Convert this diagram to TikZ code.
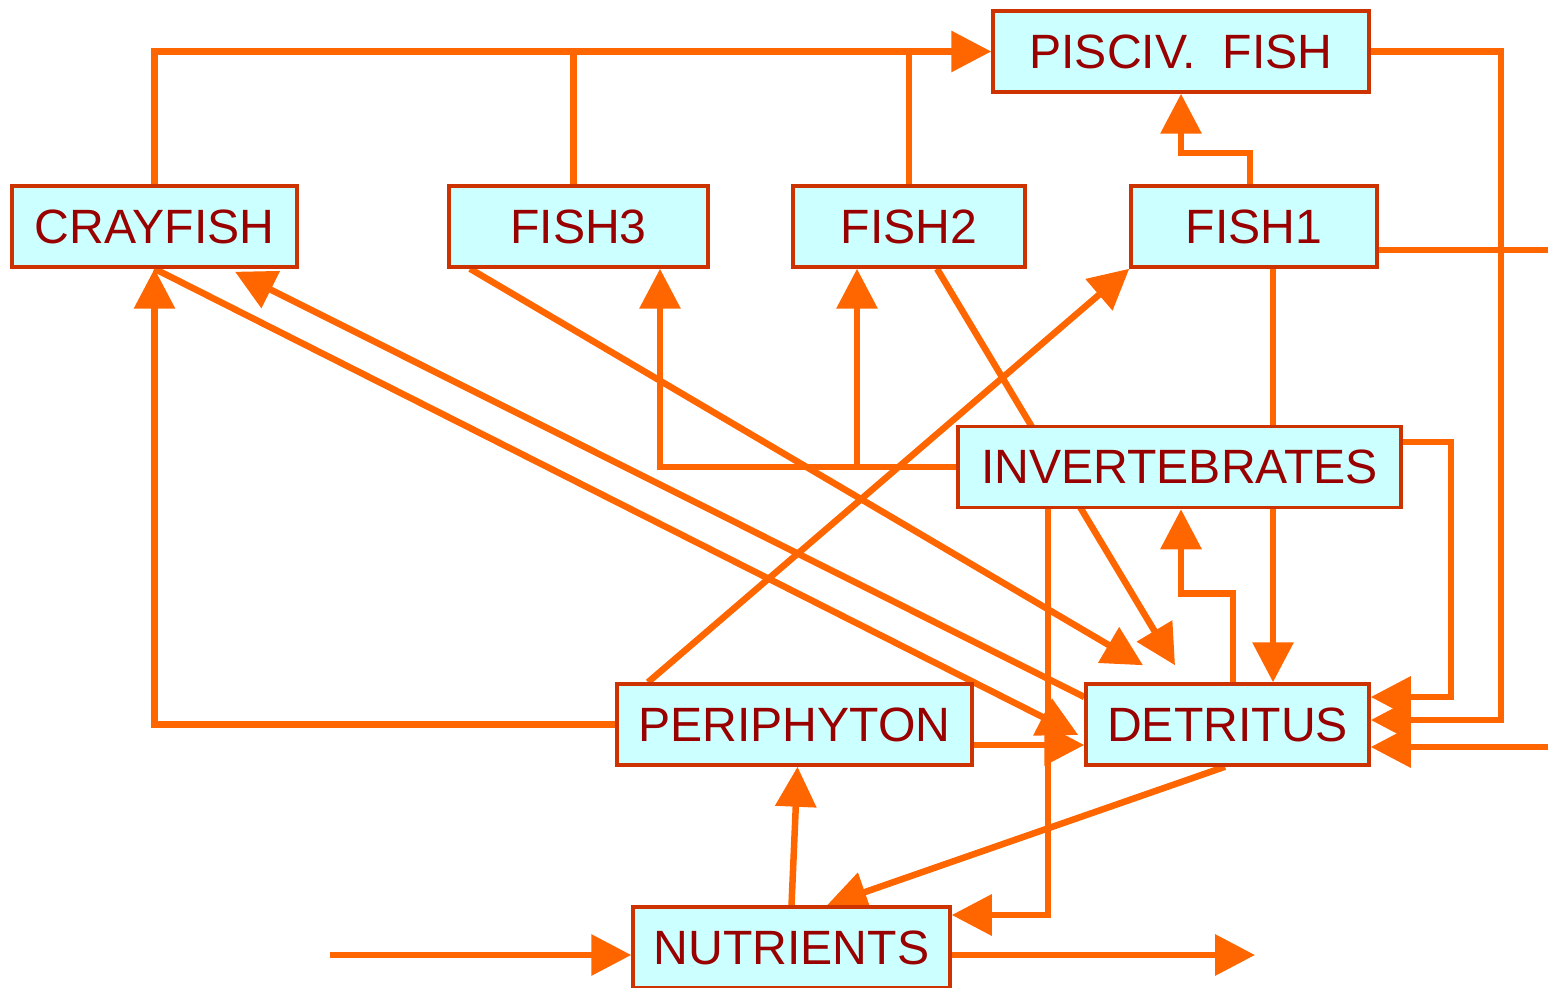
\documentclass[tikz,border=0pt]{standalone}
\usepackage{fontspec}
\setmainfont{Liberation Sans}
\usepackage{xcolor}
\usepackage{tikz}
\usetikzlibrary{arrows.meta,positioning,backgrounds}
\definecolor{boxfill}{HTML}{CCFFFF}
\definecolor{boxline}{HTML}{CC3300}
\definecolor{boxtext}{HTML}{990000}
\definecolor{flowcol}{HTML}{FF6600}

\begin{document}
\begin{tikzpicture}[
    box/.style={draw=boxline, line width=0.035cm, fill=boxfill, text=boxtext,
                font=\fontsize{13.7}{16}\selectfont, minimum height=8.1mm, inner sep=0pt},
    flow/.style={draw=flowcol, line width=0.065cm},
    arrow/.style={flow, -{Triangle[length=4mm, width=4mm]}}
]
\useasboundingbox (0,0) rectangle (15.48,9.87);
\node[box, minimum width=37.6mm] (pisc) at (11.81,9.355) {PISCIV.\ \ FISH};
\node[box, minimum width=28.5mm] (cray) at (1.545,7.605) {CRAYFISH};
\node[box, minimum width=25.9mm] (fish3) at (5.785,7.605) {FISH3};
\node[box, minimum width=23.2mm] (fish2) at (9.09,7.605) {FISH2};
\node[box, minimum width=24.6mm] (fish1) at (12.54,7.605) {FISH1};
\node[box, minimum width=44.3mm] (inv) at (11.795,5.20) {INVERTEBRATES};
\node[box, minimum width=35.5mm] (peri) at (7.945,2.625) {PERIPHYTON};
\node[box, minimum width=28.3mm] (det) at (12.275,2.625) {DETRITUS};
\node[box, minimum width=31.7mm] (nut) at (7.915,0.395) {NUTRIENTS};
\coordinate (outF) at (15.48,7.37);
\coordinate (inD) at (15.48,2.40);
\coordinate (inN) at (3.30,0.32);
\coordinate (outN) at (12.55,0.32);

\begin{scope}[on background layer]
% to piscivorous fish
\draw[arrow] (cray.north) |- (pisc.west);
\draw[flow] ([xshift=-0.05cm]fish3.north) -- ([xshift=-0.05cm]fish3.north |- pisc.west);
\draw[flow] (fish2.north) -- (fish2.north |- pisc.west);
\draw[arrow] ([xshift=-0.04cm]fish1.north) -- ++(0,0.31) -| (pisc.south);
% to detritus
\draw[arrow] (pisc.east) -- ++(1.30,0) |- ([yshift=0.045cm]det.east);
\draw[arrow] ([yshift=0.25cm]inv.east) -- ++(0.48,0) |- ([yshift=0.275cm]det.east);
\draw[arrow] (inD) -- (det.east |- inD);
\draw[flow] ([yshift=-0.235cm]fish1.east) -- (outF);
\draw[arrow] ([xshift=0.19cm]fish1.south) -- ([xshift=0.19cm]fish1.south |- det.north);
\draw[arrow] ([xshift=0.28cm]fish2.south) -- ([xshift=-0.525cm,yshift=0.17cm]det.north);
\draw[arrow] ([xshift=-1.085cm]fish3.south) -- ([xshift=-0.845cm,yshift=0.17cm]det.north);
\draw[arrow] (cray.south) -- ([xshift=-0.06cm,yshift=-0.105cm]det.west);
\draw[arrow] ([yshift=-0.205cm]peri.east) -- ([yshift=-0.205cm]peri.east -| det.west);
% invertebrates
\draw[arrow] (inv.west) -| ([xshift=0.815cm]fish3.south);
\draw[arrow] ([xshift=-0.52cm]fish2.south |- inv.west) -- ([xshift=-0.52cm]fish2.south);
\draw[arrow] ([xshift=0.055cm]det.north) -- ++(0,0.89) -| ([xshift=0.015cm]inv.south);
\draw[arrow] ([xshift=-1.315cm]inv.south) |- ([yshift=0.325cm]nut.east);
% crayfish and periphyton
\draw[arrow] ([yshift=0.275cm]det.west) -- ([xshift=0.805cm,yshift=-0.03cm]cray.south);
\draw[arrow] ([xshift=-1.465cm]peri.north) -- (fish1.south west);
\draw[arrow] (peri.west) -| (cray.south);
% nutrients
\draw[arrow] (nut.north) -- ([xshift=0.03cm]peri.south);
\draw[arrow] ([xshift=-0.025cm]det.south) -- ([xshift=0.355cm]nut.north);
\draw[arrow] (inN) -- (nut.west |- inN);
\draw[arrow] (nut.east |- outN) -- (outN);
\end{scope}
\end{tikzpicture}
\end{document}
